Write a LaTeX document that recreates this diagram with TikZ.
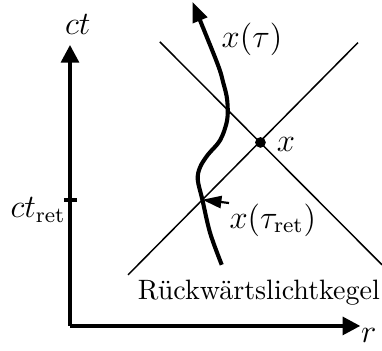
\documentclass[tikz,border=0pt]{standalone}
\usetikzlibrary{arrows.meta}

\newcommand*{\rmax}{3.75}
\newcommand*{\tmax}{3.63}
\newcommand*{\tret}{1.63}

\begin{document}
\begin{tikzpicture}
[
	axis/.style={line width=1.4pt,-{Triangle[length=6.5pt,width=6.5pt]}},
	cone/.style={line width=0.55pt},
	worldline/.style={line width=1.5pt,-{Triangle[length=7.5pt,width=5.5pt]}},
	pointer/.style={line width=0.8pt,-{Triangle[length=7pt,width=4.5pt]}},
	eventpt/.style={circle,draw,fill,inner sep=0pt,minimum size=3.5pt},
	lbl/.style={inner sep=0pt,font=\large}
]
	\useasboundingbox (-0.904,-0.32) rectangle (4.03,4.21);

	% axes
	\coordinate (O) at (0,0);
	\coordinate (rend) at (\rmax,0);
	\coordinate (tend) at (0,\tmax);
	\draw[axis] (O) -- (rend);
	\draw[axis] (O) -- (tend);
	\node[lbl] (rlabel) at (3.86,-0.12) {$r$};
	\node[lbl] (tlabel) at (0.10,3.89) {$ct$};

	% retarded time on the axis
	\coordinate (tick1) at (-0.08,\tret);
	\coordinate (tick2) at (0.09,\tret);
	\draw[line width=1.4pt] (tick1) -- (tick2);
	\node[lbl,anchor=east] (tretlabel) at (-0.05,1.50) {$ct_{\mathrm{ret}}$};

	% light cone
	\node[eventpt] (X) at (2.46,2.37) {};
	\node[lbl] (xlabel) at (2.79,2.35) {$x$};
	\coordinate (c1a) at (1.16,3.67);
	\coordinate (c1b) at (4.03,0.79);
	\coordinate (c2a) at (0.75,0.66);
	\coordinate (c2b) at (3.72,3.66);
	\draw[cone] (c1a) -- (c1b);
	\draw[cone] (c2a) -- (c2b);
	\node[inner sep=0pt,font=\fontsize{10.3}{12}\selectfont] (cone) at (2.44,0.43) {R\"uckw\"artslichtkegel};

	% world line
	\draw[worldline] plot[smooth,tension=0.55] coordinates {(1.96,0.79) (1.81,1.20) (1.71,1.63) (1.65,1.89) (1.68,2.05) (1.78,2.21) (1.94,2.40) (2.03,2.66) (2.03,2.92) (1.98,3.14) (1.90,3.40) (1.58,4.19)};
	\node[lbl] (wlabel) at (2.35,3.70) {$x(\tau)$};

	% retarded point
	\coordinate (R) at (1.71,1.63);
	\node[lbl] (retlabel) at (2.62,1.37) {$x(\tau_{\mathrm{ret}})$};
	\draw[pointer] (retlabel.north west) -- (R);

\end{tikzpicture}
\end{document}
